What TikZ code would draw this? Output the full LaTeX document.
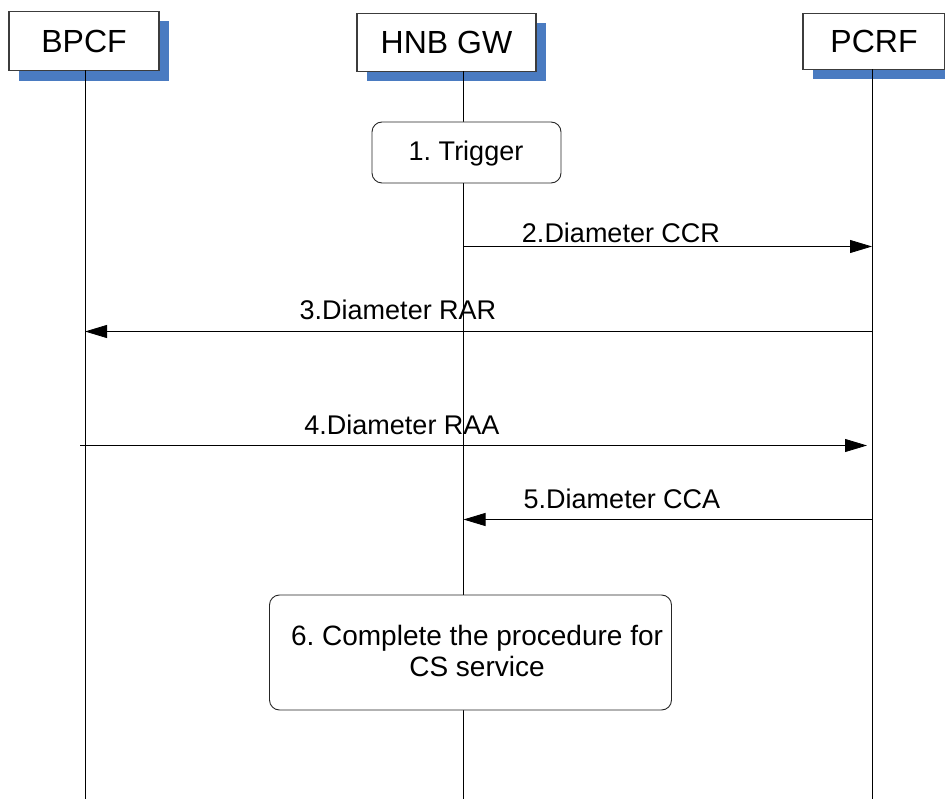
\documentclass[tikz,border=0pt]{standalone}
\usepackage{fontspec}
\setmainfont{Liberation Sans}
\usepackage{xcolor}
\usepackage{tikz}
\usetikzlibrary{arrows.meta, shadows}
\definecolor{seq-shadow}{HTML}{4A7BC1}
\definecolor{seq-border}{HTML}{3C3C3C}
\frenchspacing

\begin{document}
\begin{tikzpicture}[
			x=1pt, y=-1pt,
			entity/.style={
				draw=seq-border, fill=white, line width=1.1pt,
				minimum height=58pt, inner sep=0pt,
				font=\fontsize{32}{36}\selectfont,
				drop shadow={shadow xshift=10pt, shadow yshift=-10pt,
					fill=seq-shadow, opacity=1}
			},
			action/.style={
				draw=black!85, fill=white, line width=0.9pt,
				rounded corners=10pt, inner sep=0pt, align=center
			},
			lifeline/.style={draw=black, line width=0.8pt},
			msg/.style={draw=black, line width=0.8pt,
				-{Triangle[length=22pt, width=13pt]}},
			msglabel/.style={anchor=base, inner sep=0pt,
				font=\fontsize{27}{31}\selectfont}
			]
			
			\clip (0,0) rectangle (945,799);
			
			\def\xbpcf{85}
			\def\xhnb{463.5}
			\def\xpcrf{872}
			
			\node[entity, minimum width=150pt, minimum height=59.5pt] (bpcf) at (84,41) {BPCF};
			\node[entity, minimum width=179pt] (hnbgw) at (446.5,42.5) {HNB GW};
			\node[entity, minimum width=142pt, minimum height=56pt] (pcrf) at (874,41.2) {PCRF};
			
			\coordinate (bpcf-top) at (\xbpcf,70.5);
			\coordinate (bpcf-end) at (\xbpcf,799);
			\coordinate (hnbgw-top) at (\xhnb,71.5);
			\coordinate (hnbgw-end) at (\xhnb,799);
			\coordinate (pcrf-top) at (\xpcrf,69.5);
			\coordinate (pcrf-end) at (\xpcrf,799);
			
			\draw[lifeline] (bpcf-top) -- (bpcf-end);
			\draw[lifeline] (hnbgw-top) -- (hnbgw-end);
			\draw[lifeline] (pcrf-top) -- (pcrf-end);
			
			\node[action, minimum width=189pt, minimum height=61pt] (trigger) at (466.5,152.5) {};
			\node[msglabel] (trigger-text) at (466,161) {1. Trigger};
			
			\coordinate (ccr-from) at (\xhnb,246.5);
			\coordinate (ccr-to) at (\xpcrf,246.5);
			\draw[msg] (ccr-from) -- (ccr-to);
			\node[msglabel] (ccr) at (621,243) {2.Diameter CCR};
			
			\coordinate (rar-from) at (\xpcrf,331.5);
			\coordinate (rar-to) at (\xbpcf,331.5);
			\draw[msg] (rar-from) -- (rar-to);
			\node[msglabel] (rar) at (398,320) {3.Diameter RAR};
			
			\coordinate (raa-from) at (80,445.5);
			\coordinate (raa-to) at (867,445.5);
			\draw[msg] (raa-from) -- (raa-to);
			\node[msglabel] (raa) at (402,434) {4.Diameter RAA};
			
			\coordinate (cca-from) at (\xpcrf,519.5);
			\coordinate (cca-to) at (\xhnb,519.5);
			\draw[msg] (cca-from) -- (cca-to);
			\node[msglabel] (cca) at (622,508) {5.Diameter CCA};
			
			\node[action, minimum width=402pt, minimum height=115pt] (complete) at (470.5,652.5) {};
			\node[msglabel, align=center, font=\fontsize{28}{31}\selectfont]
			(complete-text) at (477,676) {6. Complete the procedure for\\CS service};
			
		\end{tikzpicture}
\end{document}
